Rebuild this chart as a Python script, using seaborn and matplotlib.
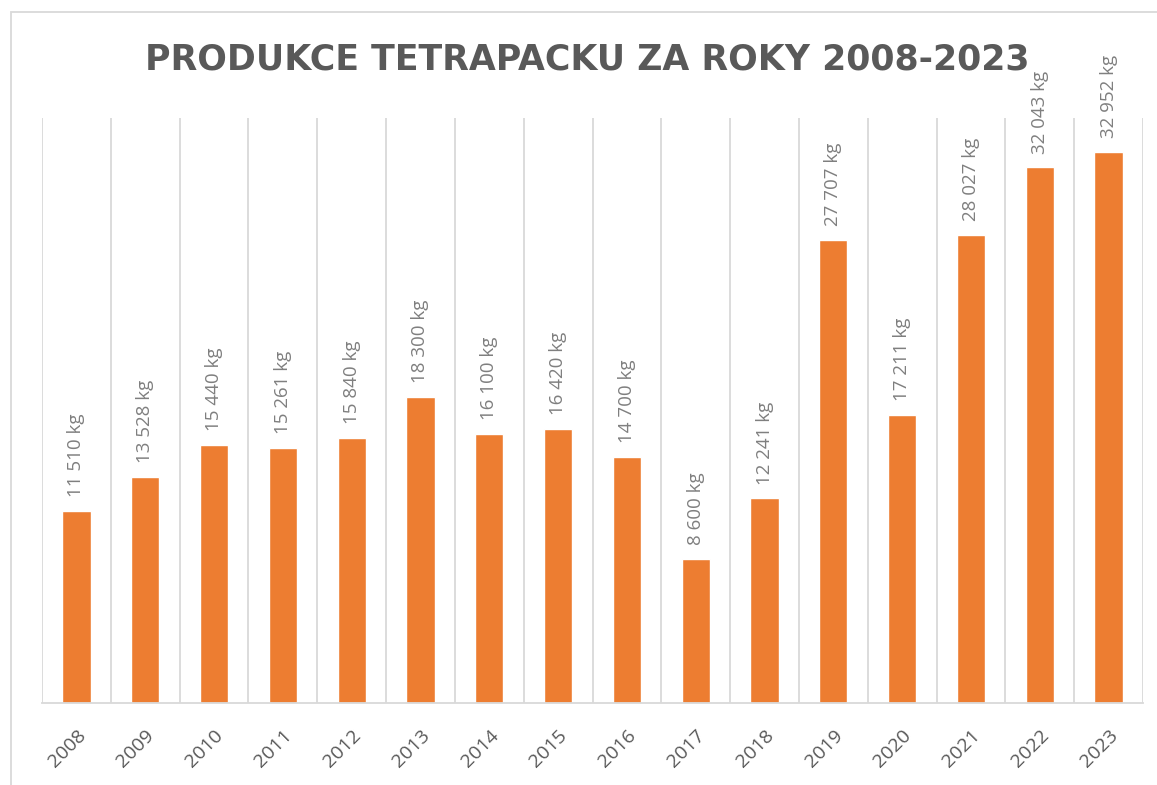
import matplotlib
matplotlib.use("Agg")
import matplotlib.pyplot as plt
import seaborn as sns
import pandas as pd
from matplotlib.patches import Rectangle

years = ["2008", "2009", "2010", "2011", "2012", "2013", "2014", "2015",
         "2016", "2017", "2018", "2019", "2020", "2021", "2022", "2023"]
values = [11510, 13528, 15440, 15261, 15840, 18300, 16100, 16420,
          14700, 8600, 12241, 27707, 17211, 28027, 32043, 32952]
labels = ["11 510 kg", "13 528 kg", "15 440 kg", "15 261 kg", "15 840 kg",
          "18 300 kg", "16 100 kg", "16 420 kg", "14 700 kg", "8 600 kg",
          "12 241 kg", "27 707 kg", "17 211 kg", "28 027 kg", "32 043 kg",
          "32 952 kg"]
title = "PRODUKCE TETRAPACKU ZA ROKY 2008-2023"

df = pd.DataFrame({"rok": years, "kg": values})

sns.set_style("white")
plt.rcParams["font.family"] = ["Open Sans", "DejaVu Sans"]

fig = plt.figure(figsize=(11.57, 7.85), dpi=100)
ax = fig.add_axes([42 / 1157, 82 / 785, (1143 - 42) / 1157, (703 - 118) / 785])

sns.barplot(data=df, x="rok", y="kg", color="#ED7D31", width=0.41,
            saturation=1, ax=ax)

ax.set_ylim(0, 35000)
ax.set_xlim(-0.5, len(years) - 0.5)

# svisle mrizky mezi kategoriemi jako v Excelu
for i in range(len(years) + 1):
    ax.axvline(i - 0.5, color="#D9D9D9", lw=1.3, zorder=0)

for sp in ["top", "right", "left"]:
    ax.spines[sp].set_visible(False)
ax.spines["bottom"].set_color("#D9D9D9")
ax.spines["bottom"].set_linewidth(1.3)

ax.set_yticks([])
ax.set_xlabel("")
ax.set_ylabel("")
ax.tick_params(axis="x", length=0, pad=17, colors="#595959", labelsize=14)
plt.setp(ax.get_xticklabels(), rotation=45, ha="right", rotation_mode="anchor")

for i, (v, lab) in enumerate(zip(values, labels)):
    ax.annotate(lab, (i, v), xytext=(0, 10), textcoords="offset points",
                rotation=90, ha="center", va="bottom", fontsize=13.5,
                color="#7F7F7F", annotation_clip=False)

fig.text(587 / 1157, 1 - 60 / 785, title, ha="center", va="center",
         fontsize=25, fontweight="bold", color="#595959",
         family="DejaVu Sans")

fig.patches.append(Rectangle((11 / 1157, -0.1), 1.2, 1 - 12 / 785 + 0.1,
                             transform=fig.transFigure, fill=False,
                             edgecolor="#D9D9D9", lw=1.3, zorder=-1))

fig.savefig("out.png", dpi=100)
